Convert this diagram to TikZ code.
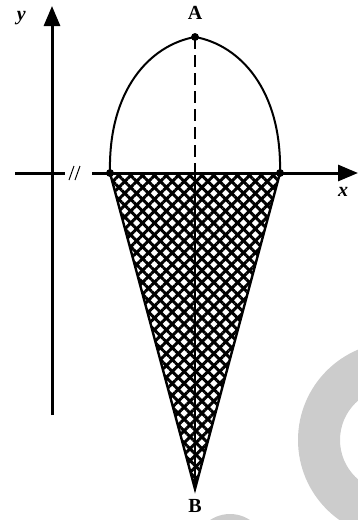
\documentclass[tikz,border=0pt]{standalone}
\usepackage{fontspec}
\setmainfont{Liberation Serif}
\usetikzlibrary{arrows.meta,patterns.meta}
\begin{document}
\begin{tikzpicture}[x=0.5pt,y=-0.5pt,>={Triangle[length=10pt,width=8pt]},font=\fontsize{10}{11}\selectfont\bfseries]
 \useasboundingbox (0,0) rectangle (358,520);
 % watermark
 \begin{scope}
  \clip (0,0) rectangle (358,520);
  \fill[black!20,even odd rule] (396,440) circle (98) (392,440) circle (52);
  \fill[black!20] (230,550) circle (36);
 \end{scope}
 \coordinate (L) at (110,173);
 \coordinate (R) at (280,173);
 \coordinate (A) at (195,37);
 \coordinate (B) at (195,489);
 \coordinate (M) at (195,173);
 % hatched cone
 \fill[pattern={Lines[angle=45,distance=4.2pt,line width=1.5pt]}] (L) -- (R) -- (B) -- cycle;
 \fill[pattern={Lines[angle=-45,distance=4.2pt,line width=1.5pt]}] (L) -- (R) -- (B) -- cycle;
 \draw[line width=1.2pt] (L) -- (B) -- (R);
 \draw[line width=0.8pt] (M) -- (B);
 % cap
 \draw[line width=1pt] (L) .. controls (108,90) and (150,45) .. (A)
  .. controls (240,45) and (282,90) .. (R);
 \draw[line width=1pt,dash pattern=on 6pt off 3pt] (A) -- (M);
 % axes
 \draw[line width=1.5pt,->] (52,415) -- (52,6) node[pos=1,left=9pt,yshift=-6pt] {\itshape y};
 \draw[line width=1.5pt] (15,173) -- (65,173);
 \draw[line width=1.5pt,->] (92,173) -- (358,173);
 \node at (343,192) {\itshape x};
 \draw[line width=0.5pt] (69,180) -- (74,166) (75,180) -- (80,166);
 % points
 \draw[fill] (A) circle (3.5) node[above=5pt] {A};
 \draw[fill] (L) circle (3.5);
 \draw[fill] (R) circle (3.5);
 \node at (195,506) {B};
\end{tikzpicture}
\end{document}
